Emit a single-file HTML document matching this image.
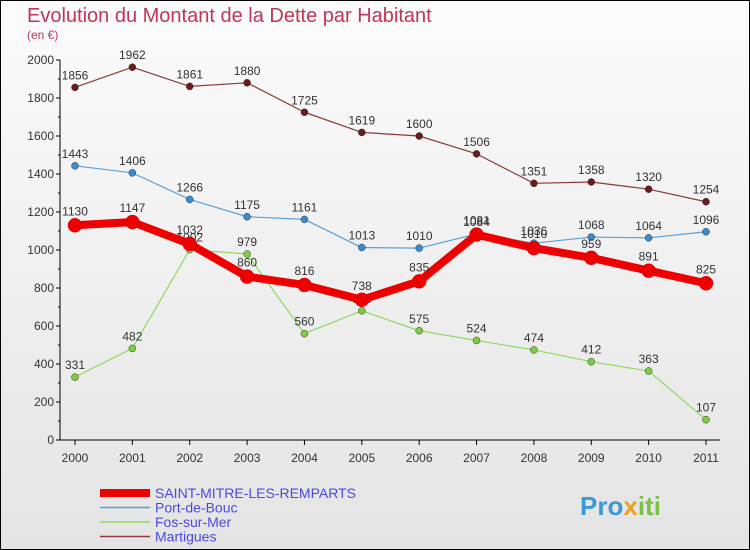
<!DOCTYPE html>
<html><head><meta charset="utf-8"><style>
body{margin:0;width:750px;height:550px;overflow:hidden;font-family:"Liberation Sans",sans-serif}
svg{display:block}
</style></head><body>
<svg id="c" width="750" height="550" xmlns="http://www.w3.org/2000/svg">
<defs><linearGradient id="bg" x1="0" y1="0" x2="0" y2="1"><stop offset="0" stop-color="#fbfbfb"/><stop offset="1" stop-color="#e4e4e4"/></linearGradient></defs>
<rect x="0.5" y="0.5" width="749" height="549" fill="url(#bg)" stroke="#000"/>
<text x="27" y="22" font-size="20" fill="#c0365a">Evolution du Montant de la Dette par Habitant</text>
<text x="27" y="39" font-size="12" fill="#c0365a">(en €)</text>
<g id="axes"></g><g id="series"></g><g id="legend"></g>
<text x="580" y="515" font-size="26" font-weight="bold" fill="#3a9ad9">Pro<tspan fill="#f0a020">x</tspan><tspan fill="#7ac143">iti</tspan></text>
</svg>
<script>
const years=[2000,2001,2002,2003,2004,2005,2006,2007,2008,2009,2010,2011];
const yTicks=[0,200,400,600,800,1000,1200,1400,1600,1800,2000];
const seriesNames=["SAINT-MITRE-LES-REMPARTS","Port-de-Bouc","Fos-sur-Mer","Martigues"];
const saintMitre=[1130,1147,1032,860,816,738,835,1081,1010,959,891,825];
const portDeBouc=[1443,1406,1266,1175,1161,1013,1010,1084,1036,1068,1064,1096];
const fos=[331,482,1002,979,560,680,575,524,474,412,363,107];
const martigues=[1856,1962,1861,1880,1725,1619,1600,1506,1351,1358,1320,1254];
const NS="http://www.w3.org/2000/svg";
const xS=i=>75+i*(706-75)/(years.length-1);
const yS=v=>440-v*380/2000;
function mk(t,a,p){const e=document.createElementNS(NS,t);for(const k in a)e.setAttribute(k,a[k]);p.appendChild(e);return e;}
const ax=document.getElementById('axes');
const yaxis=mk('line',{x1:60,y1:60,x2:60,y2:440,stroke:'#000'},ax);


const xaxis=mk('line',{x1:60,y1:440,x2:720,y2:440,stroke:'#000'},ax);


yTicks.forEach(v=>{
 mk('line',{x1:56,y1:yS(v),x2:60,y2:yS(v),stroke:'#000'},ax);
 if(v<2000) mk('line',{x1:58,y1:yS(v+100),x2:60,y2:yS(v+100),stroke:'#000'},ax);
 const t=mk('text',{x:54,y:yS(v)+4,'font-size':12,'text-anchor':'end',fill:'#333'},ax);
 t.textContent=v;
 
 
});
years.forEach((y,i)=>{
 mk('line',{x1:xS(i),y1:440,x2:xS(i),y2:445,stroke:'#000'},ax);
 const t=mk('text',{x:xS(i),y:462,'font-size':12,'text-anchor':'middle',fill:'#333'},ax);
 t.textContent=y;
 
 
});
const sg=document.getElementById('series');
const styles=[
 {d:fos,c:'#90d860',w:1.2,r:3.5,f:'#80cc40',n:'fos-sur-mer'},
 {d:portDeBouc,c:'#5aa0d8',w:1.2,r:3.5,f:'#3a8ad0',n:'port-de-bouc'},
 {d:martigues,c:'#8a3a3a',w:1.2,r:3.5,f:'#6a1a1a',n:'martigues'},
 {d:saintMitre,c:'#ee0000',w:8,r:7,f:'#ee0000',n:'saint-mitre'}];
styles.forEach(s=>{
 const g=mk('g',{},sg);
 
 
 const pl=mk('polyline',{points:s.d.map((v,i)=>xS(i)+','+yS(v)).join(' '),fill:'none',stroke:s.c,'stroke-width':s.w,'stroke-linejoin':'round'},g);
 
 
 s.d.forEach((v,i)=>{
  const c=mk('circle',{cx:xS(i),cy:yS(v),r:s.r,fill:s.f,stroke:s.w>2?'#c00':'#333','stroke-width':0.5},g);
  
  
  const t=mk('text',{x:xS(i),y:yS(v)-(s.w>2?10:8),'font-size':12,'text-anchor':'middle',fill:'#333'},g);
  t.textContent=v;
  
  
 });
});
const lg=document.getElementById('legend');
const lc=[['#ee0000',8],['#5aa0d8',1.5],['#90d860',1.5],['#8a3a3a',1.5]];
seriesNames.forEach((n,i)=>{
 const y=493+i*14.5;
 const l=mk('line',{x1:100,y1:y,x2:150,y2:y,stroke:lc[i][0],'stroke-width':lc[i][1]},lg);
 
 
 const t=mk('text',{x:155,y:y+5,'font-size':14,fill:'#4a4ae0'},lg);
 t.textContent=n;
 
 
});
</script>
</body></html>
